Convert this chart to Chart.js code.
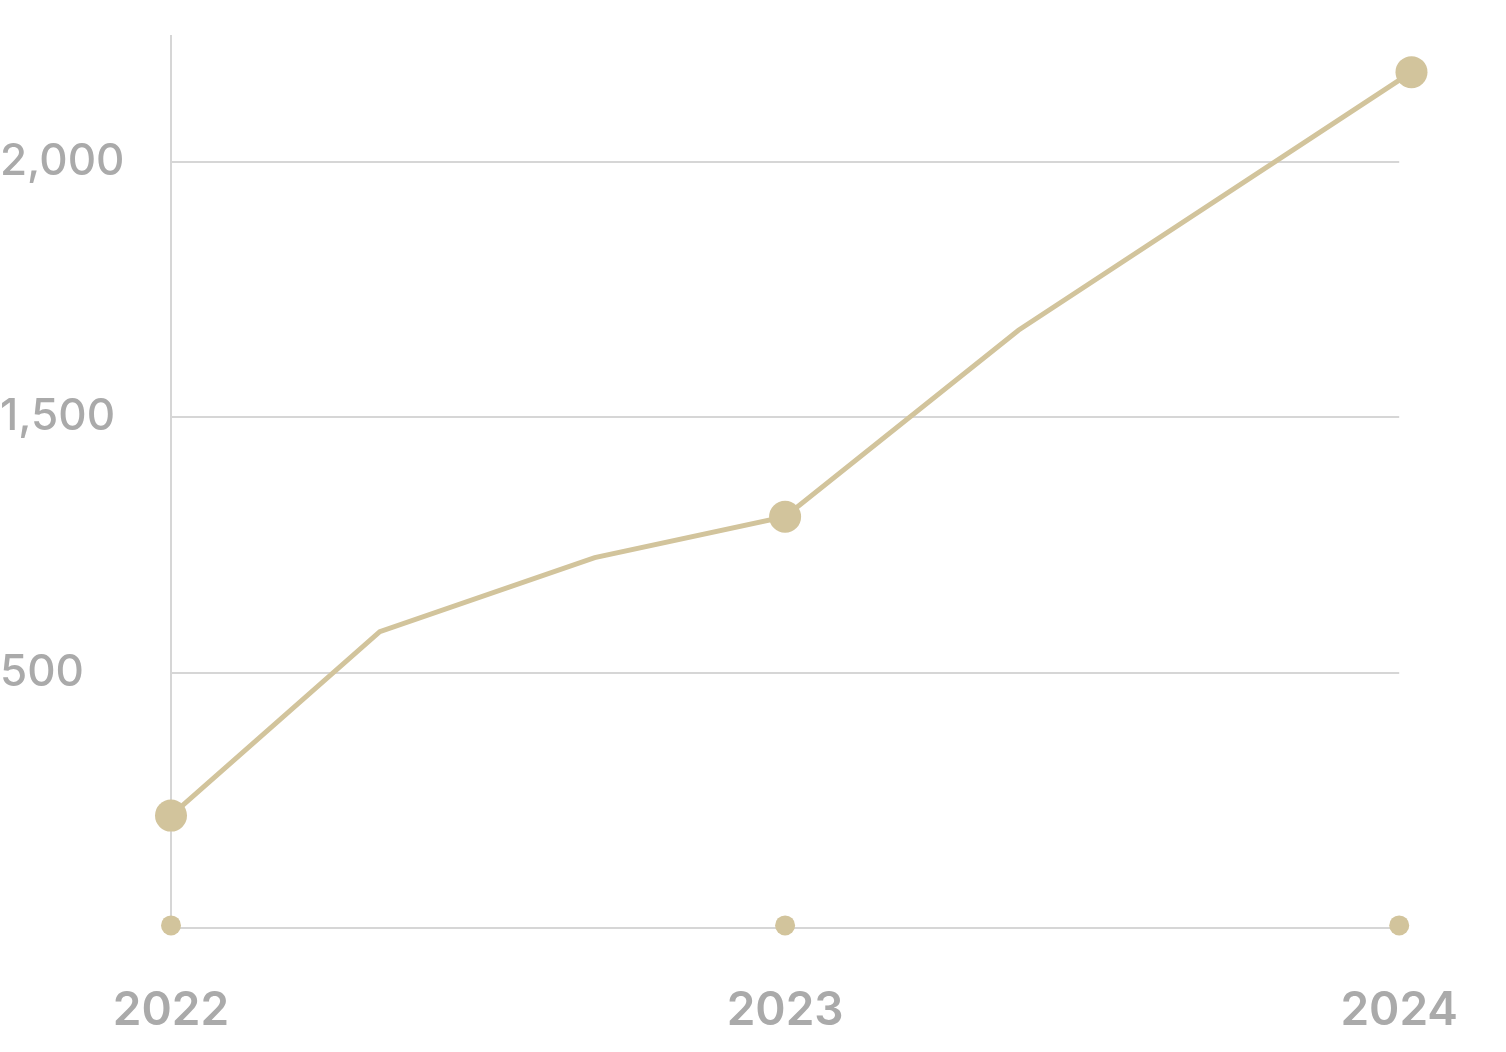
<!DOCTYPE html>
<html>
<head>
<script src="https://cdn.jsdelivr.net/npm/chart.js@4"></script>
<style>
  html, body { margin: 0; padding: 0; background: #fff; }
  #wrap { width: 1506px; height: 1052px; }
</style>
</head>
<body>
<div id="wrap"><canvas id="myChart"></canvas></div>
<script>
// x positions as fractional years, y in grid steps (one step per gridline)
const xValues = [2022, 2022.34, 2022.69, 2023, 2023.38, 2024.02];
const yValues = [0.44, 1.16, 1.45, 1.61, 2.34, 3.35];
const pointSizes = [16, 0, 0, 16, 0, 16];
const yearTicks = [2022, 2023, 2024];
const yTickLabels = ["", "500", "1,500", "2,000"];

const gold = "#d2c49c";
const gray = "#aaaaaa";

const ctx = document.querySelector("#myChart");
new Chart(ctx, {
  type: "line",
  data: {
    datasets: [
      {
        data: xValues.map((x, i) => ({ x: x, y: yValues[i] })),
        borderColor: gold,
        backgroundColor: gold,
        borderWidth: 5,
        pointRadius: pointSizes,
        pointHoverRadius: pointSizes,
        pointBorderWidth: 0,
        clip: false,
      },
      {
        data: yearTicks.map((x) => ({ x: x, y: 0.01 })),
        showLine: false,
        backgroundColor: gold,
        pointRadius: 10,
        pointBorderWidth: 0,
        clip: false,
      },
    ],
  },
  options: {
    responsive: true,
    maintainAspectRatio: false,
    animation: false,
    layout: { padding: { right: 52, top: 0 } },
    plugins: { legend: { display: false }, tooltip: { enabled: false } },
    scales: {
      x: {
        type: "linear",
        min: 2022,
        max: 2024,
        afterBuildTicks: (axis) => { axis.ticks = yearTicks.map((v) => ({ value: v })); },
        afterFit: (axis) => { axis.height = 124; },
        grid: { display: false },
        border: { display: false },
        ticks: {
          color: gray,
          font: { family: "Inter", size: 46, weight: "600" },
          padding: 48,
          callback: (v) => String(v),
          maxRotation: 0,
        },
      },
      y: {
        min: 0,
        max: 3.49,
        afterBuildTicks: (axis) => { axis.ticks = [0, 1, 2, 3].map((v) => ({ value: v })); },
        afterFit: (axis) => { axis.width = 171; },
        grid: { color: "#d6d6d6", lineWidth: 2, drawTicks: false },
        border: { display: true, color: "#d6d6d6", width: 2 },
        ticks: {
          color: gray,
          font: { family: "Inter", size: 44, weight: "500" },
          crossAlign: "far",
          padding: 10,
          callback: (v) => yTickLabels[v],
        },
      },
    },
  },
});
</script>
</body>
</html>
